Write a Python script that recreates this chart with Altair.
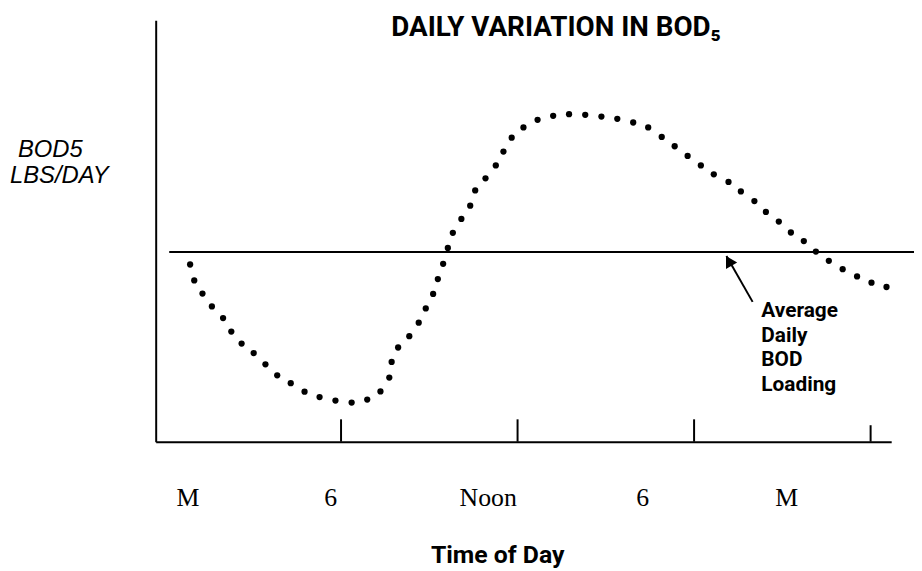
import altair as alt
import pandas as pd

# ---- data (hours of day, BOD5 load in arbitrary units 0-100) ----
hours = [0.87, 1.01, 1.29, 1.61, 1.99, 2.27, 2.62, 3.03, 3.43, 3.83, 4.29, 4.76,
         5.27, 5.81, 6.36, 6.89, 7.34, 7.64, 7.72, 7.94, 8.32, 8.64, 8.88, 9.13,
         9.29, 9.47, 9.63, 9.80, 10.09, 10.39, 10.56, 10.91, 11.26, 11.52, 11.80,
         12.20, 12.68, 13.21, 13.75, 14.30, 14.85, 15.39, 15.93, 16.44, 16.90,
         17.34, 17.78, 18.23, 18.67, 19.17, 19.59, 20.05, 20.44, 20.88, 21.29,
         21.73, 22.14, 22.58, 23.05, 23.54, 24.03, 24.54]
bod = [42.05, 38.28, 35.15, 32.09, 29.34, 26.12, 23.29, 21.04, 18.35, 15.76,
       13.88, 11.86, 10.59, 9.74, 9.27, 9.98, 11.93, 15.22, 18.92, 22.35, 25.04,
       28.24, 31.62, 35.06, 38.59, 42.21, 45.98, 49.58, 52.87, 56.00, 59.62,
       62.52, 65.58, 68.87, 72.16, 74.59, 76.40, 77.34, 77.74, 77.58, 77.18,
       76.64, 75.76, 74.59, 72.33, 70.12, 67.81, 65.58, 63.46, 61.65, 59.39,
       57.11, 54.52, 52.24, 49.65, 47.62, 45.11, 42.92, 40.94, 39.22, 37.74, 36.71]

avg_bod = 45
avg_start, avg_end = 0.16, 25.48

tick_hours = [6, 12, 18, 24]
tick_len = [5.3, 5.3, 5.3, 3.9]

label_hours = [0.8, 5.65, 11.0, 16.25, 21.15]
label_text = ["M", "6", "Noon", "6", "M"]

arrow_tail = (19.99, 33.18)
arrow_tip = (19.10, 44.09)
arrow_head = (19.18, 42.9)

SANS = "Liberation Sans, Arial, sans-serif"
BOLD = "Roboto, Liberation Sans, sans-serif"
SERIF = "Liberation Serif, Times New Roman, serif"

xs = alt.Scale(domain=[-0.3, 24.7], nice=False, zero=False)
ys = alt.Scale(domain=[0, 100], nice=False, zero=False)

ax_x = alt.Axis(domain=True, domainColor="black", domainWidth=2, ticks=False,
                labels=False, grid=False, title=None)
ax_y = alt.Axis(domain=True, domainColor="black", domainWidth=2, ticks=False,
                labels=False, grid=False, title=None)

curve_df = pd.DataFrame({"hour": hours, "bod": bod})
dots = alt.Chart(curve_df).mark_circle(size=40, color="black", opacity=1).encode(
    x=alt.X("hour:Q", scale=xs, axis=ax_x),
    y=alt.Y("bod:Q", scale=ys, axis=ax_y),
)

avg_df = pd.DataFrame({"x0": [avg_start], "x1": [avg_end], "y": [avg_bod]})
avg = alt.Chart(avg_df).mark_rule(color="black", strokeWidth=2).encode(
    x=alt.X("x0:Q", scale=xs), x2="x1:Q", y=alt.Y("y:Q", scale=ys))

tick_df = pd.DataFrame({"h": tick_hours, "y0": [0] * 4, "y1": tick_len})
ticks = alt.Chart(tick_df).mark_rule(color="black", strokeWidth=2).encode(
    x=alt.X("h:Q", scale=xs), y=alt.Y("y0:Q", scale=ys), y2="y1:Q")

lab_df = pd.DataFrame({"h": label_hours, "t": label_text})
labels = alt.Chart(lab_df).mark_text(font=SERIF, fontSize=26, color="black",
                                     baseline="alphabetic", align="center").encode(
    x=alt.X("h:Q", scale=xs), y=alt.value(490), text="t:N")

arrow_df = pd.DataFrame({"x0": [arrow_tail[0]], "y0": [arrow_tail[1]],
                         "x1": [arrow_tip[0]], "y1": [arrow_tip[1]]})
arrow_line = alt.Chart(arrow_df).mark_rule(color="black", strokeWidth=2).encode(
    x=alt.X("x0:Q", scale=xs), y=alt.Y("y0:Q", scale=ys), x2="x1:Q", y2="y1:Q")
head_df = pd.DataFrame({"x": [arrow_head[0]], "y": [arrow_head[1]]})
arrow_headm = alt.Chart(head_df).mark_point(shape="triangle-up", filled=True, size=170,
                                            color="black", opacity=1, angle=330).encode(
    x=alt.X("x:Q", scale=xs), y=alt.Y("y:Q", scale=ys))

def txt(text, x, y, font, size, bold=False, italic=False, align="left"):
    return alt.Chart(pd.DataFrame({"t": [text]})).mark_text(
        font=font, fontSize=size, fontWeight="bold" if bold else "normal",
        fontStyle="italic" if italic else "normal", align=align,
        baseline="alphabetic", color="black", lineBreak="\n", lineHeight=25,
    ).encode(x=alt.value(x), y=alt.value(y), text="t:N")

title = txt("DAILY VARIATION IN BOD\u2085", 404, 16, BOLD, 28, bold=True, align="center")
xtitle = txt("Time of Day", 345, 547, BOLD, 25, bold=True, align="center")
ylab1 = txt("BOD5", -139, 138, SANS, 24, italic=True)
ylab2 = txt("LBS/DAY", -147, 164, SANS, 24, italic=True)
note = txt("Average\nDaily\nBOD\nLoading", 611, 299, BOLD, 21, bold=True)

chart = alt.layer(avg, dots, ticks, labels, arrow_line, arrow_headm,
                  title, xtitle, ylab1, ylab2, note).properties(
    width=742, height=425,
    padding={"left": 149, "top": 10, "right": 23, "bottom": 128},
    autosize=alt.AutoSizeParams(type="none"),
    background="white",
).configure_view(stroke=None)

chart.save("out.html", embed_options={"renderer": "svg", "actions": False})
